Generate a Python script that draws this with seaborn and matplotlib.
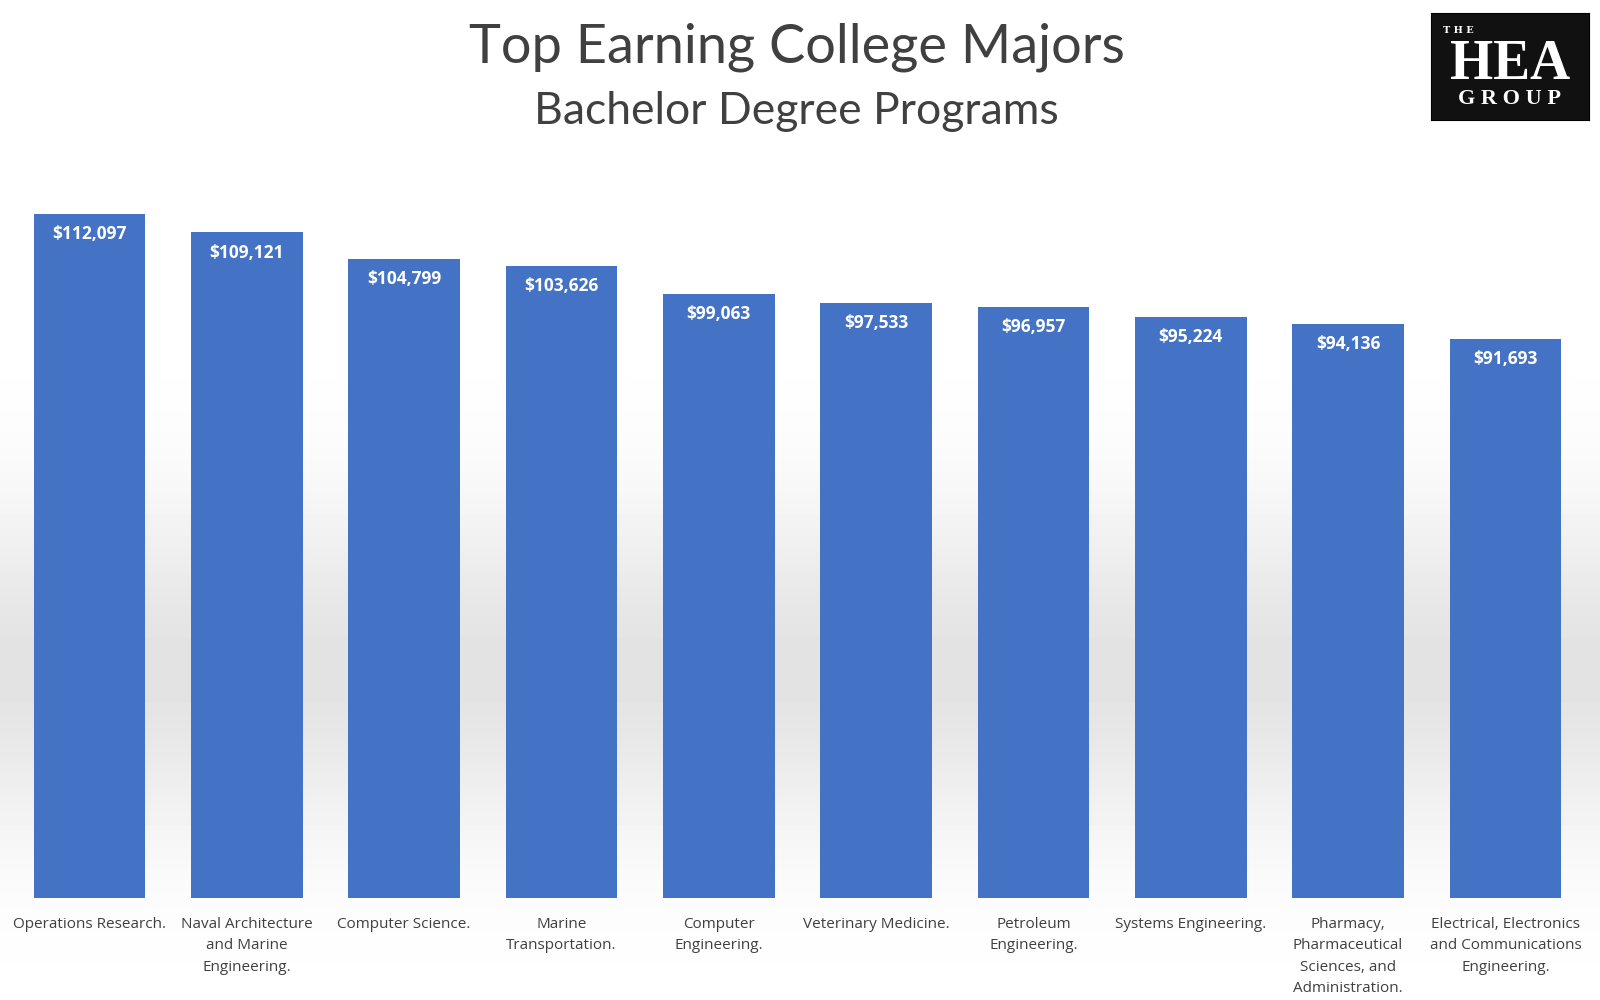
import numpy as np
import pandas as pd
import matplotlib
matplotlib.use("Agg")
import matplotlib.pyplot as plt
import seaborn as sns

# Dados do gráfico
majors = ["Operations Research.", "Naval Architecture\nand Marine\nEngineering.",
          "Computer Science.", "Marine\nTransportation.", "Computer\nEngineering.",
          "Veterinary Medicine.", "Petroleum\nEngineering.", "Systems Engineering.",
          "Pharmacy,\nPharmaceutical\nSciences, and\nAdministration.",
          "Electrical, Electronics\nand Communications\nEngineering."]
earnings = [112097, 109121, 104799, 103626, 99063, 97533, 96957, 95224, 94136, 91693]

df = pd.DataFrame({"major": majors, "earnings": earnings})

fig = plt.figure(figsize=(16, 10), dpi=100)

# fundo em degradê cinza (suave)
bg = fig.add_axes([0, 0, 1, 1], zorder=-10)
t = np.linspace(0, 1, 1000)
g = 1 - 0.11 * np.exp(-((t - 0.67) / 0.16) ** 2)
g = np.where(t < 0.15, 1.0, g)
bg.imshow(np.tile(g[:, None], (1, 10)), cmap="gray", vmin=0, vmax=1, aspect="auto",
          extent=[0, 1, 0, 1], origin="upper")
bg.axis("off")

ax = fig.add_axes([33 / 1568, 1 - 880 / 980, (1530 - 33) / 1568, 670 / 980])
sns.barplot(data=df, x="major", y="earnings", color="#4472C4", width=0.71,
            saturation=1, ax=ax)
ax.set_xlim(-0.355, 9.355)
ax.set_ylim(0, 112097)
ax.set_facecolor("none")
for s in ax.spines.values():
    s.set_visible(False)
ax.set_yticks([])
ax.set_xlabel("")
ax.set_ylabel("")
ax.tick_params(axis="x", length=0, pad=14)
ax.set_xticks(range(len(majors)))
ax.set_xticklabels(majors, fontsize=11, color="#404040", family="Open Sans",
                   linespacing=1.55, va="top")

for i, v in enumerate(earnings):
    ax.text(i, v - 3300, f"${v:,}", ha="center", va="center", color="white",
            fontsize=12.5, fontweight="bold", family="Open Sans")

fig.text(0.498, 0.953, "Top Earning College Majors", ha="center", va="center",
         fontsize=39, color="#404040", family="Lato")
fig.text(0.498, 0.888, "Bachelor Degree Programs", ha="center", va="center",
         fontsize=32, color="#404040", family="Lato")

# logo
logo = fig.add_axes([1402 / 1568, 1 - 118 / 980, 155 / 1568, 105 / 980])
logo.set_facecolor("#111111")
logo.set_xticks([]); logo.set_yticks([])
logo.text(0.08, 0.84, "T H E", color="white", fontsize=7, family="DejaVu Serif",
          fontweight="bold", va="center")
logo.text(0.5, 0.52, "HEA", color="white", fontsize=40, family="Liberation Serif",
          fontweight="bold", ha="center", va="center")
logo.text(0.5, 0.2, "G R O U P", color="white", fontsize=16, family="Liberation Serif",
          fontweight="bold", ha="center", va="center")

fig.savefig("out.png", dpi=100)
